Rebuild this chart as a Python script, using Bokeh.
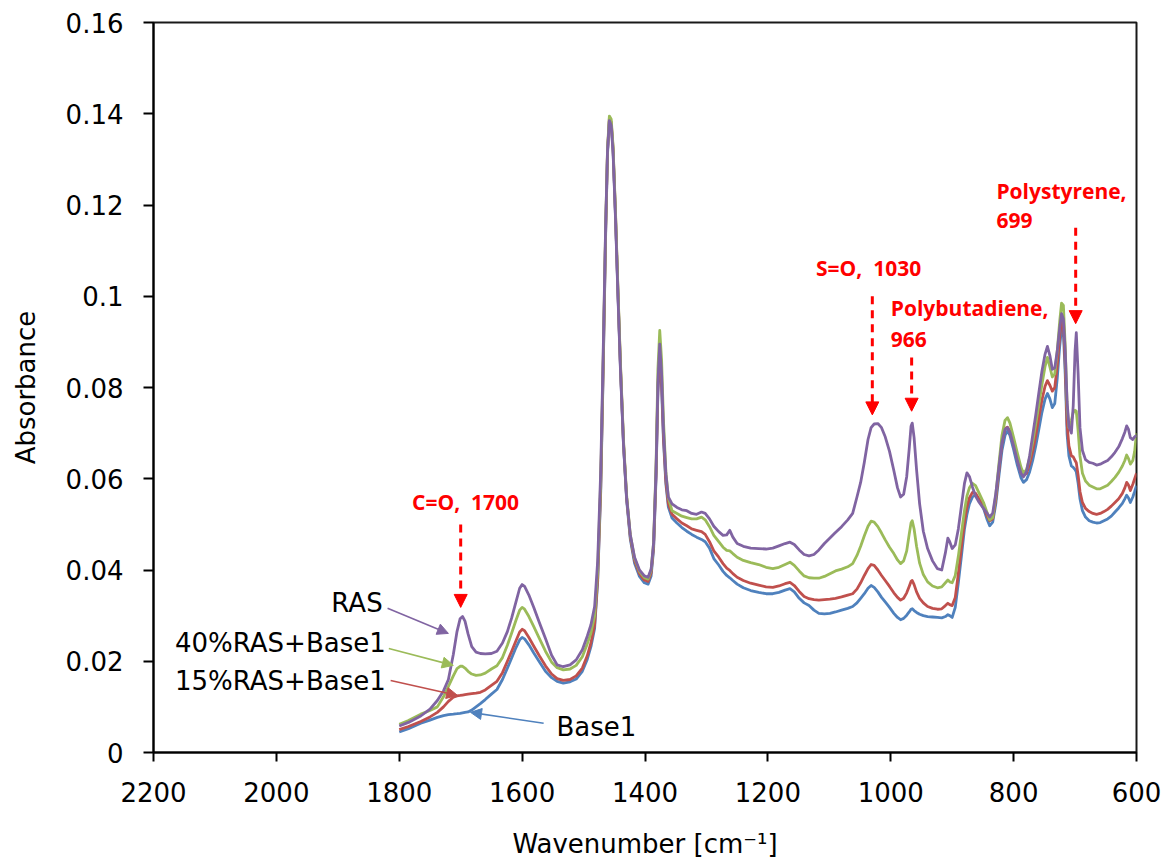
from bokeh.plotting import figure
from bokeh.models import (Range1d, FixedTicker, CustomJSTickFormatter, Arrow,
                          NormalHead, Label, ColumnDataSource)
from bokeh.embed import file_html
from bokeh.resources import INLINE

# FTIR spectra, absorbance vs. wavenumber (cm-1)
wavenumber = [
    1800, 1785, 1765, 1750, 1738, 1728, 1720, 1712, 1706, 1701, 1697, 1693, 1688, 1682, 1675,
    1668, 1660, 1650, 1641, 1632, 1624, 1617, 1610, 1604, 1600, 1596, 1589, 1581, 1572, 1562,
    1552, 1543, 1533, 1522, 1512, 1502, 1494, 1488, 1482,
    1477, 1472, 1468, 1464, 1461, 1458, 1455, 1452, 1448, 1444, 1440, 1435, 1430, 1424, 1417,
    1409, 1401, 1395, 1390, 1386, 1382, 1379, 1376, 1373, 1370, 1366, 1362,
    1356, 1348, 1340, 1332, 1324, 1316, 1308, 1302, 1295, 1288, 1280, 1273, 1267, 1262, 1257,
    1250, 1240, 1228, 1215, 1203, 1192, 1182, 1172, 1164, 1157, 1149, 1141, 1133, 1125, 1117,
    1108, 1099, 1090, 1080, 1070, 1062,
    1055, 1049, 1043, 1037, 1032, 1027, 1021, 1015, 1009, 1002, 995, 989, 984, 979, 974,
    970, 967, 965, 962, 958, 953, 947, 940, 932, 924, 917, 911, 907, 904, 900,
    895, 890, 885, 880, 876, 872, 867, 862, 856, 849, 843, 839, 834, 829, 824,
    819, 814, 810, 806, 800, 794, 788, 784, 779, 774, 769, 764, 759, 754, 749,
    745, 741, 737, 733, 729, 725, 722, 719, 716, 713, 710, 706, 703, 700, 698,
    695, 692, 688, 683, 677, 671, 665, 659, 653, 647, 641, 635, 629, 623, 619,
    616, 613, 610, 606, 603, 600,
]

ras = [
    .0058, .0066, .0080, .0095, .0114, .0135, .0160, .0215, .0265, .0293, .0298, .0288, .0260, .0232, .0220,
    .0217, .0216, .0217, .0222, .0240, .0265, .0295, .0330, .0360, .0368, .0364, .0345, .0318, .0285, .0250,
    .0213, .0192, .0188, .0192, .0203, .0225, .0255, .0280, .0320,
    .0420, .0620, .0880, .1160, .1320, .1385, .1375, .1315, .1170, .1000, .0840, .0675, .0560, .0478, .0428,
    .0400, .0387, .0384, .0402, .0460, .0620, .0810, .0895, .0830, .0710, .0610, .0560,
    .0545, .0537, .0532, .0530, .0524, .0522, .0527, .0524, .0512, .0496, .0484, .0476, .0477, .0487, .0472,
    .0458, .0452, .0448, .0447, .0446, .0448, .0453, .0458, .0461, .0456, .0444, .0434, .0431, .0434, .0444,
    .0458, .0470, .0482, .0495, .0510, .0524,
    .0560, .0592, .0636, .0686, .0712, .0720, .0721, .0712, .0692, .0660, .0618, .0580, .0560, .0566, .0605,
    .0665, .0715, .0722, .0690, .0620, .0545, .0485, .0447, .0420, .0403, .0400, .0438, .0470, .0462, .0447,
    .0455, .0490, .0540, .0590, .0613, .0605, .0582, .0562, .0548, .0535, .0524, .0516, .0525, .0568, .0625,
    .0680, .0708, .0712, .0702, .0672, .0640, .0612, .0604, .0616, .0650, .0695, .0740, .0788, .0835, .0872,
    .0890, .0870, .0840, .0843, .0880, .0930, .0962, .0950, .0880, .0770, .0715, .0700, .0760, .0880, .0920,
    .0830, .0712, .0662, .0642, .0636, .0634, .0630, .0632, .0636, .0640, .0648, .0658, .0670, .0688, .0702,
    .0716, .0708, .0690, .0686, .0692, .0695,
]

ras40_base1 = [
    .0062, .0070, .0084, .0092, .0100, .0122, .0145, .0168, .0184, .0189, .0189, .0185, .0178, .0172, .0169,
    .0170, .0174, .0183, .0190, .0208, .0235, .0262, .0290, .0312, .0318, .0314, .0298, .0276, .0250, .0222,
    .0198, .0186, .0181, .0183, .0191, .0210, .0238, .0262, .0300,
    .0400, .0600, .0865, .1155, .1325, .1395, .1388, .1330, .1185, .1015, .0855, .0685, .0565, .0478, .0426,
    .0397, .0383, .0380, .0400, .0460, .0630, .0840, .0925, .0860, .0730, .0615, .0558,
    .0530, .0524, .0518, .0515, .0512, .0512, .0516, .0510, .0495, .0476, .0462, .0450, .0443, .0442, .0436,
    .0428, .0421, .0416, .0412, .0406, .0403, .0406, .0412, .0417, .0410, .0398, .0387, .0383, .0382, .0382,
    .0386, .0392, .0398, .0402, .0407, .0414,
    .0432, .0452, .0475, .0496, .0507, .0505, .0495, .0481, .0466, .0450, .0436, .0422, .0414, .0420, .0442,
    .0478, .0503, .0508, .0490, .0452, .0415, .0390, .0374, .0365, .0361, .0363, .0372, .0378, .0374, .0372,
    .0388, .0430, .0480, .0530, .0562, .0580, .0590, .0585, .0568, .0548, .0525, .0510, .0515, .0565, .0632,
    .0695, .0728, .0734, .0722, .0690, .0657, .0625, .0612, .0620, .0645, .0680, .0720, .0762, .0806, .0845,
    .0866, .0845, .0823, .0830, .0880, .0945, .0985, .0980, .0890, .0760, .0712, .0728, .0745, .0750, .0748,
    .0705, .0650, .0612, .0595, .0586, .0582, .0578, .0578, .0582, .0586, .0594, .0603, .0614, .0628, .0640,
    .0652, .0644, .0632, .0640, .0660, .0700,
]

ras15_base1 = [
    .0050, .0057, .0068, .0078, .0088, .0100, .0112, .0121, .0124, .0125, .0126, .0127, .0128, .0129, .0130,
    .0132, .0137, .0147, .0156, .0175, .0200, .0222, .0245, .0264, .0270, .0267, .0252, .0233, .0212, .0190,
    .0172, .0162, .0158, .0160, .0168, .0185, .0212, .0240, .0280,
    .0382, .0585, .0850, .1145, .1318, .1390, .1382, .1325, .1180, .1010, .0850, .0680, .0560, .0473, .0421,
    .0392, .0378, .0375, .0394, .0452, .0612, .0800, .0880, .0815, .0695, .0595, .0545,
    .0522, .0512, .0503, .0497, .0490, .0487, .0484, .0478, .0462, .0442, .0428, .0414, .0404, .0399, .0392,
    .0384, .0377, .0371, .0367, .0363, .0362, .0365, .0370, .0373, .0366, .0353, .0342, .0337, .0335, .0334,
    .0335, .0336, .0338, .0341, .0345, .0348,
    .0358, .0372, .0388, .0403, .0412, .0410, .0400, .0388, .0377, .0364, .0350, .0340, .0334, .0338, .0350,
    .0364, .0375, .0377, .0368, .0352, .0338, .0328, .0320, .0316, .0314, .0315, .0322, .0327, .0324, .0322,
    .0340, .0392, .0450, .0505, .0538, .0558, .0570, .0568, .0555, .0538, .0518, .0508, .0512, .0555, .0618,
    .0678, .0710, .0713, .0704, .0676, .0643, .0614, .0606, .0612, .0632, .0660, .0695, .0733, .0772, .0802,
    .0815, .0805, .0792, .0800, .0848, .0912, .0948, .0940, .0850, .0720, .0672, .0650, .0648, .0640, .0635,
    .0608, .0572, .0548, .0535, .0528, .0524, .0522, .0524, .0528, .0533, .0540, .0548, .0556, .0568, .0580,
    .0592, .0586, .0574, .0588, .0600, .0612,
]

base1 = [
    .0045, .0052, .0064, .0071, .0077, .0081, .0083, .0084, .0085, .0086, .0087, .0088, .0089, .0093, .0100,
    .0107, .0116, .0128, .0138, .0160, .0185, .0207, .0230, .0247, .0252, .0249, .0236, .0218, .0199, .0178,
    .0164, .0156, .0152, .0155, .0161, .0178, .0204, .0232, .0272,
    .0375, .0575, .0840, .1138, .1312, .1385, .1378, .1320, .1175, .1005, .0845, .0675, .0555, .0468, .0415,
    .0386, .0372, .0369, .0387, .0445, .0602, .0790, .0868, .0800, .0685, .0588, .0538,
    .0514, .0503, .0493, .0485, .0478, .0472, .0467, .0462, .0448, .0425, .0411, .0397, .0388, .0383, .0377,
    .0369, .0361, .0355, .0351, .0348, .0348, .0351, .0356, .0359, .0352, .0338, .0328, .0322, .0312, .0305,
    .0304, .0305, .0308, .0312, .0316, .0320,
    .0328, .0338, .0348, .0360, .0366, .0362, .0352, .0340, .0330, .0318, .0305, .0296, .0291, .0294, .0301,
    .0308, .0314, .0315, .0311, .0307, .0303, .0300, .0298, .0297, .0296, .0295, .0298, .0302, .0300, .0296,
    .0318, .0372, .0430, .0490, .0522, .0545, .0560, .0565, .0552, .0535, .0510, .0497, .0505, .0545, .0605,
    .0662, .0695, .0705, .0695, .0664, .0630, .0602, .0592, .0598, .0615, .0640, .0672, .0708, .0745, .0774,
    .0787, .0775, .0756, .0765, .0820, .0890, .0930, .0920, .0828, .0698, .0650, .0628, .0625, .0620, .0615,
    .0590, .0556, .0530, .0516, .0508, .0505, .0503, .0504, .0508, .0512, .0518, .0527, .0536, .0546, .0556,
    .0564, .0558, .0548, .0560, .0572, .0585,
]

series_names = ["Base1", "15%RAS+Base1", "40%RAS+Base1", "RAS"]
series_values = [base1, ras15_base1, ras40_base1, ras]
series_colors = ["#4F81BD", "#C0504D", "#9BBB59", "#8064A2"]

x_ticks = [2200, 2000, 1800, 1600, 1400, 1200, 1000, 800, 600]
y_ticks = [0, 0.02, 0.04, 0.06, 0.08, 0.10, 0.12, 0.14, 0.16]

# band assignments marked with dashed arrows (\u00a0 keeps the wide gap)
band_text = ["C=O,\u00a0 1700", "S=O,\u00a0 1030", "Polybutadiene,", "Polystyrene,"]
band_text2 = ["", "", "966", "699"]
band_wn = [1700, 1030, 966, 699]
band_arrow_top = [0.0500, 0.1000, 0.0866, 0.1150]
band_arrow_tip = [0.0318, 0.0740, 0.0748, 0.0940]
band_label_x = [1692, 1036, 1000, 828]
band_label_y = [0.0550, 0.1062, 0.0975, 0.1230]
band_label2_y = [None, None, 0.0906, 0.1165]
band_align = ["center", "center", "left", "left"]

# series call-outs: label anchor, arrow start and arrow end
callout_text_x = [1544, 1822, 1822, 1827]
callout_text_y = [0.0055, 0.0156, 0.0241, 0.0327]
callout_align = ["left", "right", "right", "right"]
callout_from_x = [1565, 1814, 1817, 1819]
callout_from_y = [0.0064, 0.0158, 0.0228, 0.0316]
callout_to_x = [1684, 1705, 1712, 1720]
callout_to_y = [0.0088, 0.0125, 0.0191, 0.0261]

FONT = "DejaVu Sans"
RED_FONT = "Open Sans"

p = figure(width=1168, height=864, output_backend="svg", toolbar_location=None,
           x_range=Range1d(2200, 600), y_range=Range1d(0, 0.16),
           min_border_left=153, min_border_right=32, min_border_top=22,
           min_border_bottom=112)
p.background_fill_color = "white"
p.border_fill_color = "white"
p.grid.visible = False
p.outline_line_color = "black"
p.outline_line_width = 2
p.outline_line_alpha = 0.9

for name, vals, col in zip(series_names, series_values, series_colors):
    src = ColumnDataSource(data=dict(x=wavenumber, y=vals))
    p.line("x", "y", source=src, line_color=col, line_width=2.8, line_join="round")

for ax in (p.xaxis[0], p.yaxis[0]):
    ax.axis_line_width = 2
    ax.axis_line_color = "black"
    ax.major_tick_line_width = 2
    ax.major_tick_line_color = "black"
    ax.minor_tick_line_color = None
    ax.major_tick_in = 0
    ax.major_label_text_font = FONT
    ax.major_label_text_font_size = "26px"
    ax.major_label_text_color = "black"
    ax.axis_label_text_font = FONT
    ax.axis_label_text_font_size = "26px"
    ax.axis_label_text_font_style = "normal"
    ax.axis_label_text_color = "black"

p.xaxis.ticker = FixedTicker(ticks=x_ticks)
p.xaxis.major_tick_out = 9
p.xaxis.major_label_standoff = 20
p.xaxis.axis_label = "Wavenumber [cm\u207b\u00b9]"
p.xaxis.axis_label_standoff = 24

p.yaxis.ticker = FixedTicker(ticks=y_ticks)
p.yaxis.major_tick_out = 10
p.yaxis.major_label_standoff = 20
p.yaxis.formatter = CustomJSTickFormatter(
    code="return tick.toFixed(2).replace(/0+$/, '').replace(/\\.$/, '');")
p.yaxis.axis_label = "Absorbance"
p.yaxis.axis_label_standoff = 22

# dashed band markers
for i in range(len(band_wn)):
    p.add_layout(Arrow(
        end=NormalHead(size=13, fill_color="#FF0000", line_color="#FF0000", line_width=1),
        x_start=band_wn[i], y_start=band_arrow_top[i],
        x_end=band_wn[i], y_end=band_arrow_tip[i],
        line_color="#FF0000", line_width=3, line_dash="8 6"))
    p.add_layout(Label(
        x=band_label_x[i], y=band_label_y[i], text=band_text[i],
        text_font=RED_FONT, text_font_size="21px", text_font_style="bold",
        text_color="#FF0000", text_align=band_align[i], text_baseline="middle"))
    if band_text2[i]:
        p.add_layout(Label(
            x=band_label_x[i], y=band_label2_y[i], text=band_text2[i],
            text_font=RED_FONT, text_font_size="21px", text_font_style="bold",
            text_color="#FF0000", text_align=band_align[i], text_baseline="middle"))

# series call-outs
for i, name in enumerate(series_names):
    col = series_colors[i]
    p.add_layout(Arrow(
        end=NormalHead(size=11, fill_color=col, line_color=col, line_width=1),
        x_start=callout_from_x[i], y_start=callout_from_y[i],
        x_end=callout_to_x[i], y_end=callout_to_y[i],
        line_color=col, line_width=1.6))
    p.add_layout(Label(
        x=callout_text_x[i], y=callout_text_y[i], text=name,
        text_font=FONT, text_font_size="26px", text_color="black",
        text_align=callout_align[i], text_baseline="middle"))

open("out.html", "w").write(file_html(p, INLINE))
